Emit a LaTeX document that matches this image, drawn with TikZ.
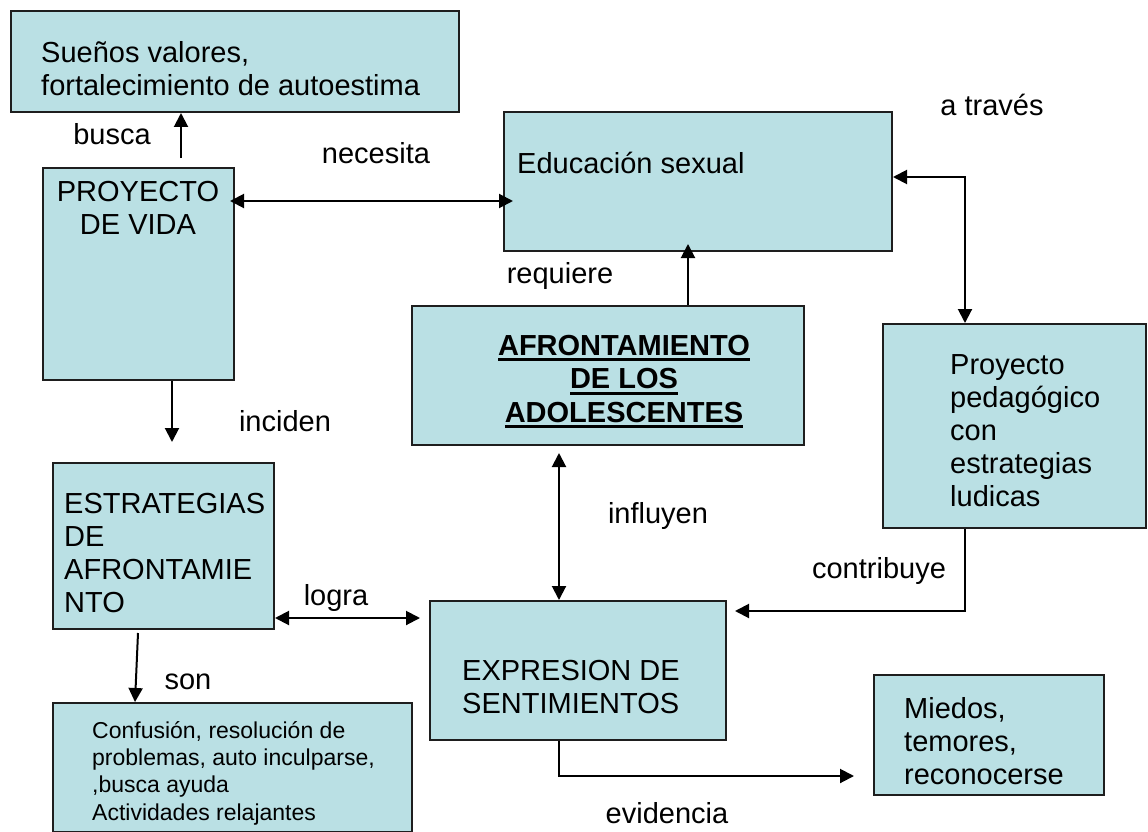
\documentclass[tikz,border=0pt]{standalone}
\usepackage{fontspec}
\setmainfont{Liberation Sans}
\usepackage{xcolor}
\usepackage{tikz}
\usetikzlibrary{arrows.meta}
\definecolor{boxfill}{RGB}{186,224,228}
\definecolor{boxline}{RGB}{30,30,30}
\newcommand{\ulbox}[1]{\setbox0=\hbox{#1}\rlap{\rule[-6pt]{\wd0}{3pt}}\box0}

\begin{document}
\begin{tikzpicture}[x=1pt,y=-1pt,
    box/.style={draw=boxline,fill=boxfill,line width=2pt,inner sep=0pt,anchor=north west},
    txt/.style={inner sep=0pt,anchor=north west,align=left,font=\fontsize{29}{33}\selectfont},
    lbl/.style={inner sep=0pt,anchor=base,font=\fontsize{29}{33}\selectfont},
    arr/.style={line width=2pt,-{Triangle[length=14pt,width=14pt]}},
    dbl/.style={line width=2pt,{Triangle[length=14pt,width=14pt]}-{Triangle[length=14pt,width=14pt]}}]
  \useasboundingbox (0,0) rectangle (1148,832);

  \node[box,minimum width=448pt,minimum height=101pt] (suenos) at (10,10) {};
  \node[box,minimum width=191pt,minimum height=212pt] (vida) at (42,167) {};
  \node[box,minimum width=388pt,minimum height=139pt] (educ) at (503,111) {};
  \node[box,minimum width=392pt,minimum height=139pt] (afront) at (411,305) {};
  \node[box,minimum width=263pt,minimum height=204pt] (proyped) at (882,323) {};
  \node[box,minimum width=221pt,minimum height=166pt] (estrat) at (52,462) {};
  \node[box,minimum width=296pt,minimum height=139pt] (expr) at (429,600) {};
  \node[box,minimum width=230pt,minimum height=120pt] (miedos) at (873,674) {};
  \node[box,minimum width=359pt,minimum height=129pt] (confus) at (52,702) {};

  \node[txt] (suenostxt) at (41,41) {Sueños valores,\\fortalecimiento de autoestima};
  \node[txt,anchor=north,align=center] (vidatxt) at (138,181) {PROYECTO\\DE VIDA};
  \node[txt] (eductxt) at (517,152) {Educación sexual};
  \node[txt,anchor=north,align=center,font=\fontsize{29}{33.5}\selectfont\bfseries] (afronttxt) at (624,335) {\ulbox{AFRONTAMIENTO}\\\ulbox{DE LOS}\\\ulbox{ADOLESCENTES}};
  \node[txt] (proypedtxt) at (950,354) {Proyecto\\pedagógico\\con\\estrategias\\ludicas};
  \node[txt] (estrattxt) at (64,493) {ESTRATEGIAS\\DE\\AFRONTAMIE\\NTO};
  \node[txt] (exprtxt) at (462,660) {EXPRESION DE\\SENTIMIENTOS};
  \node[txt] (miedostxt) at (904,697) {Miedos,\\temores,\\reconocerse};
  \node[txt,font=\fontsize{23}{27.3}\selectfont] (confustxt) at (92,721) {Confusión, resolución de\\problemas, auto inculparse,\\,busca ayuda\\Actividades relajantes};

  \node[lbl] (busca) at (112,144) {busca};
  \node[lbl] (necesita) at (376,163) {necesita};
  \node[lbl] (atraves) at (992,116) {a través};
  \node[lbl] (requiere) at (560,283) {requiere};
  \node[lbl] (inciden) at (285,431) {inciden};
  \node[lbl] (influyen) at (658,523) {influyen};
  \node[lbl] (contribuye) at (879,578) {contribuye};
  \node[lbl] (logra) at (336,605) {logra};
  \node[lbl] (son) at (188,689) {son};
  \node[lbl] (evidencia) at (667,823) {evidencia};

  \coordinate (bt) at (181,158);
  \coordinate (nec) at (0,201);
  \coordinate (at) at (965,177);
  \coordinate (rq) at (688,0);
  \coordinate (inc) at (172,442);
  \coordinate (inf) at (559,453);
  \coordinate (ct) at (735,611);
  \coordinate (lg) at (420,618);
  \coordinate (sn) at (138,633);
  \coordinate (sn2) at (135,0);
  \coordinate (ev) at (854,776);

  \draw[arr] (bt) -- (bt |- suenos.south);
  \draw[dbl,shorten <=-5pt,shorten >=-10pt] (vida.east |- nec) -- (educ.west |- nec);
  \draw[dbl] (educ.east |- at) -| (at |- proyped.north);
  \draw[arr,shorten >=-8pt] (afront.north -| rq) -- (educ.south -| rq);
  \draw[arr] (vida.south -| inc) -- (inc);
  \draw[dbl] (inf) -- (inf |- expr.north);
  \draw[arr] (at |- proyped.south) |- (ct);
  \draw[dbl] (estrat.east |- lg) -- (lg);
  \draw[arr] (sn) -- (sn2 |- confus.north);
  \draw[arr] (expr.south -| inf) |- (ev);
\end{tikzpicture}
\end{document}
